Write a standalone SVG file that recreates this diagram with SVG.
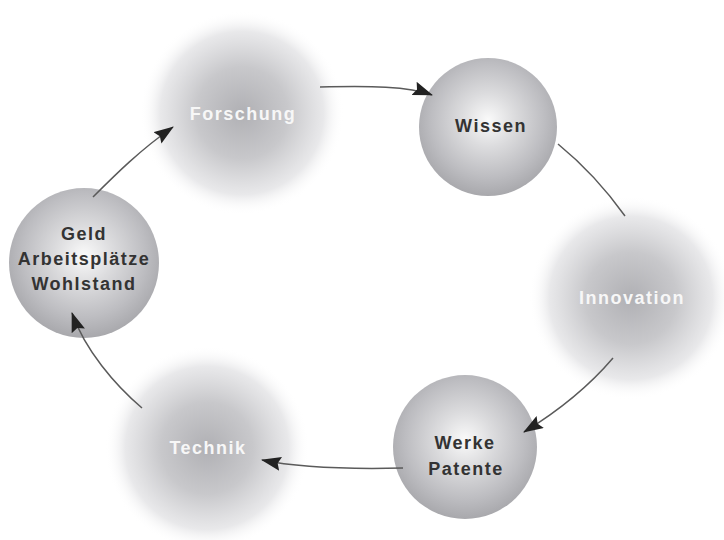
<svg xmlns="http://www.w3.org/2000/svg" width="724" height="540" viewBox="0 0 724 540">
<defs>
<radialGradient id="solid" cx="0.5" cy="0.45" r="0.55">
<stop offset="0" stop-color="#fafafa"/>
<stop offset="0.35" stop-color="#dcdcde"/>
<stop offset="0.75" stop-color="#bdbdc1"/>
<stop offset="1" stop-color="#a8a8ac"/>
</radialGradient>
<radialGradient id="fuzzy" cx="0.5" cy="0.5" r="0.5">
<stop offset="0" stop-color="#b0b0b4" stop-opacity="1"/>
<stop offset="0.45" stop-color="#c8c8cb" stop-opacity="1"/>
<stop offset="0.8" stop-color="#e6e6e8" stop-opacity="0.9"/>
<stop offset="1" stop-color="#ffffff" stop-opacity="0"/>
</radialGradient>
<marker id="ah" viewBox="0 0 20 14" refX="19" refY="7" markerWidth="20" markerHeight="14" markerUnits="userSpaceOnUse" orient="auto">
<path d="M0,0 L20,7 L0,14 L3,7 Z" fill="#222"/>
</marker>
</defs>
<style>
.lbl{font-family:"Liberation Sans",Arial,sans-serif;font-size:18px;font-weight:bold;letter-spacing:1.5px;text-anchor:middle}
.dark{fill:#333}
.light{fill:#f7f7f7}
.con{fill:none;stroke:#5a5a5a;stroke-width:1.5}
</style>
<g id="forschung">
<circle cx="242" cy="113" r="102" fill="url(#fuzzy)"/>
<text class="lbl light" x="243" y="120">Forschung</text>
</g>
<g id="wissen">
<circle cx="488" cy="127" r="69" fill="url(#solid)"/>
<text class="lbl dark" x="491" y="132">Wissen</text>
</g>
<g id="innovation">
<circle cx="631" cy="298" r="102" fill="url(#fuzzy)"/>
<text class="lbl light" x="632" y="304">Innovation</text>
</g>
<g id="werke">
<circle cx="465" cy="447" r="72" fill="url(#solid)"/>
<text class="lbl dark" x="465" y="449">Werke</text>
<text class="lbl dark" x="466" y="475">Patente</text>
</g>
<g id="technik">
<circle cx="207" cy="448" r="102" fill="url(#fuzzy)"/>
<text class="lbl light" x="208" y="454">Technik</text>
</g>
<g id="geld">
<circle cx="84" cy="263" r="75" fill="url(#solid)"/>
<text class="lbl dark" x="84" y="240">Geld</text>
<text class="lbl dark" x="84" y="265">Arbeitsplätze</text>
<text class="lbl dark" x="84" y="290">Wohlstand</text>
</g>
<g id="connectors">
<path class="con" d="M320,87 C370,86 408,86 432,95" marker-end="url(#ah)"/>
<path class="con" d="M558,144 C580,162 605,188 625,216"/>
<path class="con" d="M613,358 C590,385 560,410 524,432" marker-end="url(#ah)"/>
<path class="con" d="M403,468 C360,469 300,468 262,460" marker-end="url(#ah)"/>
<path class="con" d="M142,408 C115,385 85,350 72,313" marker-end="url(#ah)"/>
<path class="con" d="M93,197 C115,175 140,150 173,127" marker-end="url(#ah)"/>
</g>
</svg>
